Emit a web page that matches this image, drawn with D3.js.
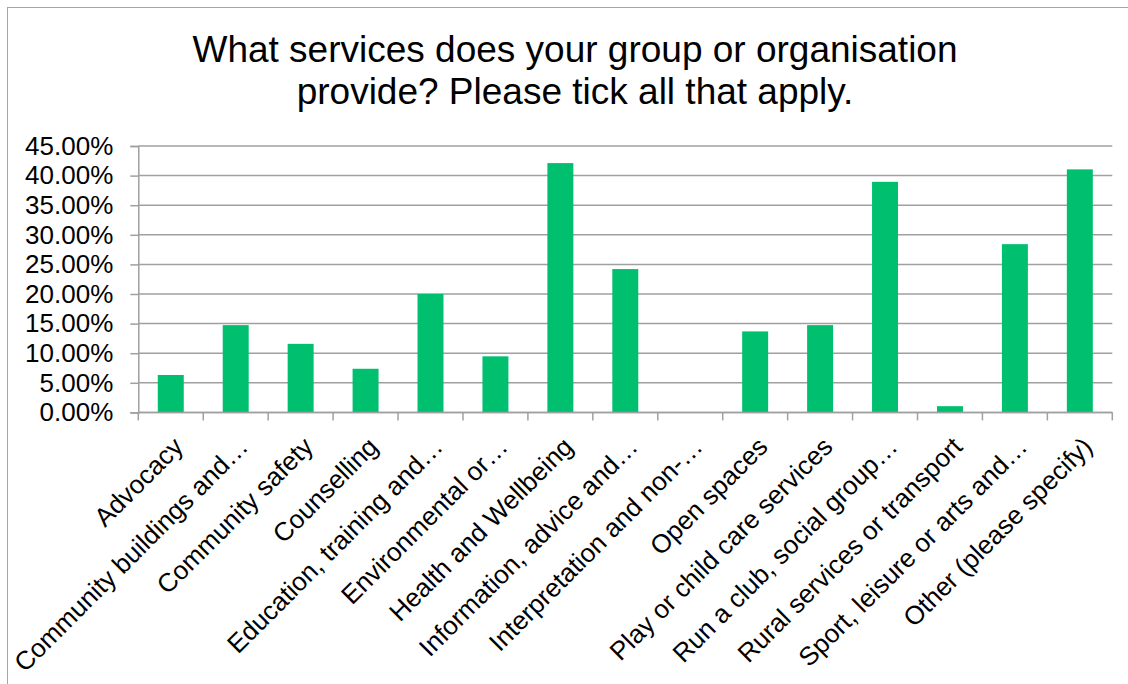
<!DOCTYPE html>
<html>
<head>
<meta charset="utf-8">
<script src="https://cdn.jsdelivr.net/npm/d3@7"></script>
<style>
  html, body { margin: 0; padding: 0; background: #fff; }
  svg { display: block; font-family: Arial, "Liberation Sans", sans-serif; }
</style>
</head>
<body>
<svg id="chart" width="1128" height="684"></svg>
<script>
// Survey question and answer options
const titleLines = [
  "What services does your group or organisation",
  "provide? Please tick all that apply."
];
const categories = [
  "Advocacy",
  "Community buildings and\u2026",
  "Community safety",
  "Counselling",
  "Education, training and\u2026",
  "Environmental or\u2026",
  "Health and Wellbeing",
  "Information, advice and\u2026",
  "Interpretation and non-\u2026",
  "Open spaces",
  "Play or child care services",
  "Run a club, social group\u2026",
  "Rural services or transport",
  "Sport, leisure or arts and\u2026",
  "Other (please specify)"
];
// Share of respondents choosing each option (%)
const values = [6.32, 14.74, 11.58, 7.37, 20.00, 9.47, 42.11, 24.21, 0, 13.68, 14.74, 38.95, 1.05, 28.42, 41.05];
const yTicks = [0, 5, 10, 15, 20, 25, 30, 35, 40, 45];

const svg = d3.select("#chart");
const W = 1128, H = 684;
const plot = { left: 138.3, right: 1112.3, top: 146, bottom: 412.4 };
const axisColor = "#a0a0a0";

// Outer chart frame
svg.append("rect")
  .attr("x", 7.5).attr("y", 7.5)
  .attr("width", W + 20).attr("height", H + 20)
  .attr("fill", "#fff").attr("stroke", "#a6a6a6").attr("stroke-width", 1);

// Title
svg.append("text")
  .attr("text-anchor", "middle")
  .attr("font-size", 37)
  .attr("fill", "#000")
  .selectAll("tspan")
  .data(titleLines)
  .join("tspan")
  .attr("x", 575)
  .attr("y", (d, i) => 62 + i * 42)
  .text(d => d);

const x = d3.scaleBand()
  .domain(categories)
  .range([plot.left, plot.right])
  .paddingInner(0.6)
  .paddingOuter(0.3);

const y = d3.scaleLinear()
  .domain([0, 45])
  .range([plot.bottom, plot.top]);

// Horizontal gridlines
svg.append("g")
  .selectAll("line")
  .data(yTicks)
  .join("line")
  .attr("x1", plot.left).attr("x2", plot.right)
  .attr("y1", d => y(d)).attr("y2", d => y(d))
  .attr("stroke", axisColor).attr("stroke-width", 1.5);

// Y axis
const yAxis = svg.append("g")
  .attr("transform", `translate(${plot.left},0)`)
  .call(d3.axisLeft(y).tickValues(yTicks).tickSize(8).tickPadding(17)
    .tickFormat(d => d.toFixed(2) + "%"));
yAxis.select(".domain").attr("stroke", axisColor).attr("stroke-width", 1.5);
yAxis.selectAll(".tick line").attr("stroke", axisColor).attr("stroke-width", 1.5);
yAxis.selectAll("text")
  .attr("font-size", 26)
  .attr("fill", "#000")
  .attr("font-family", "Arial, 'Liberation Sans', sans-serif");

// Bars
svg.append("g")
  .selectAll("rect")
  .data(values)
  .join("rect")
  .attr("x", (d, i) => x(categories[i]))
  .attr("width", x.bandwidth())
  .attr("y", d => y(d))
  .attr("height", d => y(0) - y(d))
  .attr("fill", "#00bf6f");

// X axis line and category boundary ticks
const boundaries = d3.range(categories.length + 1).map(i => plot.left + i * (plot.right - plot.left) / categories.length);
svg.append("line")
  .attr("x1", plot.left).attr("x2", plot.right)
  .attr("y1", plot.bottom).attr("y2", plot.bottom)
  .attr("stroke", axisColor).attr("stroke-width", 1.5);
svg.append("g")
  .selectAll("line")
  .data(boundaries)
  .join("line")
  .attr("x1", d => d).attr("x2", d => d)
  .attr("y1", plot.bottom).attr("y2", plot.bottom + 8)
  .attr("stroke", axisColor).attr("stroke-width", 1.5);

// Rotated category labels
svg.append("g")
  .selectAll("text")
  .data(categories)
  .join("text")
  .attr("transform", d => `translate(${x(d) + x.bandwidth() / 2 + 14},${plot.bottom + 36}) rotate(-45)`)
  .attr("text-anchor", "end")
  .attr("font-size", 26)
  .attr("fill", "#000")
  .text(d => d);
</script>
</body>
</html>
